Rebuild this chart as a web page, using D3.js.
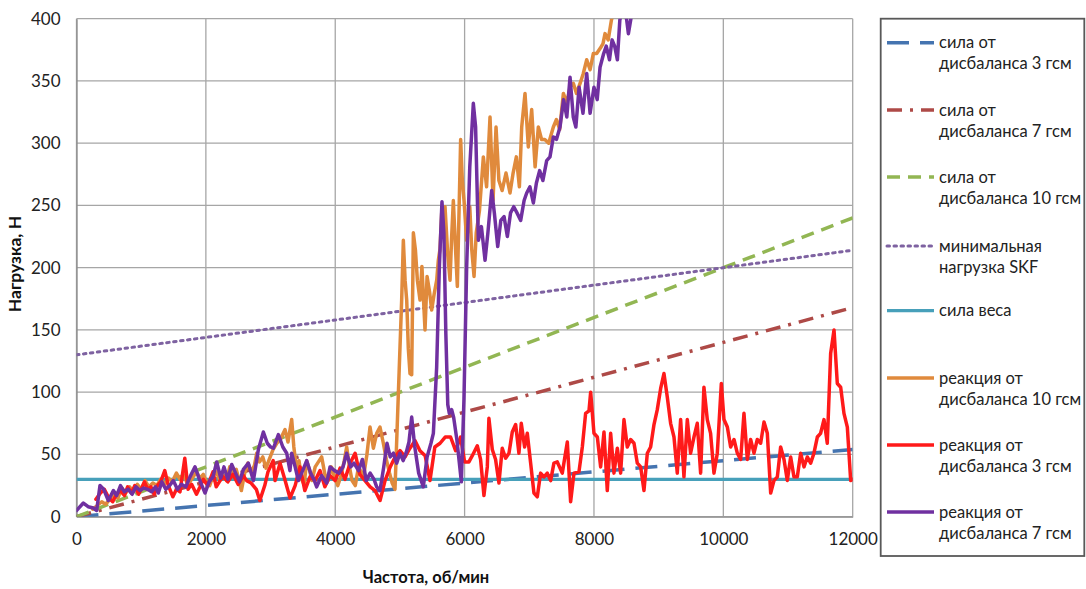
<!DOCTYPE html>
<html><head><meta charset="utf-8">
<script src="https://cdn.jsdelivr.net/npm/d3@7"></script>
<style>
html,body{margin:0;padding:0;background:#fff;}
svg{display:block;font-family:Lato,"Open Sans",sans-serif;}
</style></head>
<body>
<svg id="chart" width="1086" height="589"></svg>
<script>
// ---------- data ----------
const xTicks = [0, 2000, 4000, 6000, 8000, 10000, 12000];
const yTicks = [0, 50, 100, 150, 200, 250, 300, 350, 400];
const refRpm = [0, 12000];
const force3 = [0, 54];      // сила от дисбаланса 3 гсм
const force7 = [0, 168];     // сила от дисбаланса 7 гсм
const force10 = [0, 240];    // сила от дисбаланса 10 гсм
const skfMin = [130, 214];   // минимальная нагрузка SKF
const weight = [30, 30];     // сила веса

const react10 = [[250,6],[320,9],[390,12],[450,10],[515,14],[580,18],[640,15],[700,23],[760,19],[820,24],[880,20],[940,26],[1000,22],[1060,29],[1120,24],[1180,27],[1240,25],[1300,30],[1360,26],[1420,31],[1480,28],[1545,35],[1600,30],[1660,33],[1720,26],[1780,30],[1854,36],[1910,31],[1960,34],[2010,28],[2060,25],[2110,33],[2160,36],[2210,30],[2265,34],[2320,29],[2369,40],[2420,35],[2470,38],[2510,30],[2549,21],[2600,35],[2650,43],[2700,36],[2750,41],[2786,51],[2830,44],[2880,48],[2930,39],[2980,46],[3040,54],[3096,59],[3150,62],[3224,70],[3270,60],[3327,78],[3360,56],[3404,37],[3440,45],[3480,30],[3520,26],[3559,45],[3600,38],[3640,29],[3690,40],[3740,44],[3790,48],[3840,34],[3890,29],[3940,40],[3990,32],[4040,25],[4090,33],[4140,45],[4177,56],[4220,40],[4260,29],[4310,25],[4360,40],[4400,36],[4440,33],[4490,50],[4538,72],[4590,55],[4641,67],[4692,72],[4740,60],[4790,46],[4840,35],[4880,27],[4924,22],[4976,99],[5027,174],[5053,222],[5080,190],[5105,174],[5130,135],[5156,115],[5182,114],[5208,228],[5240,214],[5270,190],[5311,174],[5340,201],[5388,150],[5420,193],[5460,180],[5491,166],[5530,179],[5569,190],[5594,206],[5620,215],[5646,244],[5670,230],[5697,249],[5740,210],[5775,190],[5800,225],[5826,254],[5860,215],[5888,185],[5939,303],[5965,270],[5991,254],[6032,222],[6080,249],[6110,215],[6146,193],[6180,228],[6230,246],[6290,289],[6340,265],[6393,321],[6440,254],[6486,313],[6530,270],[6580,262],[6640,276],[6702,260],[6750,276],[6800,289],[6847,265],[6883,313],[6934,340],[6985,297],[7037,327],[7090,281],[7140,313],[7190,303],[7240,303],[7300,300],[7372,313],[7420,319],[7470,311],[7527,340],[7580,332],[7630,345],[7682,348],[7730,340],[7785,348],[7835,356],[7888,367],[7940,359],[7990,372],[8042,372],[8094,376],[8140,380],[8171,388],[8220,383],[8270,399],[8320,407]];

const react3 = [[300,14],[370,19],[430,22],[500,15],[560,12],[620,18],[680,21],[740,17],[790,24],[850,19],[900,25],[960,18],[1000,22],[1050,28],[1100,22],[1150,24],[1200,18],[1250,25],[1300,28],[1365,37],[1420,25],[1490,16],[1545,22],[1600,20],[1674,47],[1725,22],[1780,26],[1855,18],[1910,24],[1960,30],[2030,25],[2110,36],[2160,24],[2220,29],[2270,32],[2340,28],[2420,34],[2500,26],[2580,33],[2630,29],[2700,27],[2780,22],[2834,13],[2910,25],[2960,36],[3040,45],[3070,29],[3147,43],[3220,30],[3301,15],[3380,25],[3456,40],[3530,21],[3610,32],[3690,29],[3765,37],[3840,24],[3920,33],[3997,29],[4075,39],[4150,30],[4230,43],[4307,51],[4380,34],[4460,29],[4540,24],[4615,21],[4693,13],[4770,29],[4850,40],[4925,48],[5002,53],[5080,48],[5155,55],[5234,61],[5310,53],[5390,49],[5465,29],[5540,56],[5621,59],[5700,64],[5783,64],[5861,53],[5938,64],[6000,44],[6067,44],[6119,49],[6196,57],[6247,46],[6299,17],[6351,40],[6376,79],[6428,54],[6479,46],[6531,27],[6582,55],[6634,47],[6686,51],[6737,68],[6789,74],[6840,51],[6876,75],[6928,56],[6969,67],[7021,43],[7072,19],[7124,16],[7175,35],[7227,32],[7278,35],[7330,29],[7381,43],[7433,44],[7510,35],[7588,60],[7639,12],[7691,35],[7768,36],[7820,56],[7871,83],[7923,85],[7949,100],[8000,67],[8052,64],[8103,40],[8155,68],[8206,21],[8258,67],[8309,35],[8361,55],[8412,35],[8464,78],[8515,56],[8567,62],[8619,59],[8670,43],[8722,40],[8773,21],[8825,51],[8876,56],[8928,74],[8979,86],[9031,103],[9082,115],[9134,96],[9185,75],[9237,64],[9288,35],[9340,78],[9391,32],[9443,78],[9494,51],[9546,64],[9597,75],[9649,35],[9700,104],[9752,78],[9803,67],[9855,35],[9907,51],[9969,107],[10010,78],[10062,72],[10113,56],[10165,62],[10216,51],[10268,46],[10319,83],[10371,46],[10422,62],[10474,51],[10525,62],[10577,59],[10629,76],[10680,67],[10732,19],[10783,29],[10835,32],[10886,56],[10938,46],[10989,29],[11041,48],[11092,32],[11144,32],[11195,51],[11247,40],[11298,48],[11350,43],[11401,51],[11453,64],[11504,67],[11556,78],[11607,59],[11659,131],[11711,150],[11762,107],[11814,104],[11865,83],[11917,72],[11969,29],[12000,30]];

const react7 = [[0,5],[106,11],[180,8],[260,7],[312,5],[363,25],[420,22],[492,13],[570,21],[620,17],[680,25],[740,20],[800,22],[860,18],[920,24],[980,21],[1040,23],[1100,22],[1160,20],[1220,24],[1265,19],[1320,28],[1380,22],[1440,25],[1497,29],[1560,22],[1620,26],[1690,24],[1755,32],[1832,40],[1900,30],[1987,19],[2050,28],[2110,32],[2168,44],[2230,31],[2280,40],[2340,30],[2400,42],[2460,35],[2520,28],[2580,38],[2657,43],[2735,29],[2812,54],[2889,68],[2950,59],[3000,56],[3044,55],[3121,66],[3190,56],[3250,51],[3300,37],[3327,51],[3380,40],[3430,29],[3480,35],[3520,40],[3559,45],[3620,35],[3670,30],[3713,24],[3790,33],[3868,27],[3920,40],[3990,37],[4060,35],[4120,40],[4177,51],[4240,40],[4290,43],[4360,37],[4420,46],[4480,29],[4540,35],[4600,30],[4641,24],[4692,21],[4750,40],[4800,59],[4850,48],[4900,51],[4950,43],[5000,51],[5050,45],[5100,52],[5140,60],[5182,80],[5230,56],[5290,35],[5362,24],[5420,48],[5480,59],[5517,67],[5568,120],[5610,201],[5650,253],[5680,228],[5710,147],[5740,90],[5764,83],[5800,86],[5830,80],[5880,62],[5950,28],[5990,94],[6032,201],[6080,281],[6135,332],[6170,313],[6213,222],[6260,233],[6316,206],[6360,228],[6419,262],[6460,244],[6512,217],[6560,238],[6610,241],[6661,225],[6710,244],[6760,249],[6810,244],[6867,238],[6920,254],[6960,260],[7010,265],[7063,252],[7110,268],[7160,278],[7210,270],[7269,286],[7320,289],[7372,305],[7420,303],[7475,313],[7530,335],[7580,321],[7630,353],[7680,321],[7720,313],[7770,345],[7830,324],[7888,356],[7940,324],[8000,345],[8050,335],[8094,361],[8150,372],[8190,378],[8240,367],[8280,383],[8320,378],[8362,367],[8400,399],[8455,410],[8506,399],[8532,388],[8568,399],[8600,410]];

const legendLabels = [
  ["сила от", "дисбаланса 3 гсм"],
  ["сила от", "дисбаланса 7 гсм"],
  ["сила от", "дисбаланса 10 гсм"],
  ["минимальная", "нагрузка SKF"],
  ["сила веса"],
  ["реакция от", "дисбаланса 10 гсм"],
  ["реакция от", "дисбаланса 3 гсм"],
  ["реакция от", "дисбаланса 7 гсм"]
];

// ---------- styles ----------
const styles = [
  {color:"#4574B0", width:3.5, dash:"22,11"},
  {color:"#AE4A47", width:3.5, dash:"15,8,3,8"},
  {color:"#92B653", width:3.5, dash:"13,8"},
  {color:"#7E62A1", width:3, dash:"2.5,4.5"},
  {color:"#47A0BA", width:3.2, dash:null},
  {color:"#E08A3C", width:3.5, dash:null},
  {color:"#FF1A1A", width:3.5, dash:null},
  {color:"#7030A0", width:3.5, dash:null}
];

const svg = d3.select("#chart");
const L = 76.5, R = 852.7, T = 18.7, B = 516.7;
const x = d3.scaleLinear().domain([0, 12000]).range([L, R]);
const y = d3.scaleLinear().domain([0, 400]).range([B, T]);

svg.append("defs").append("clipPath").attr("id","plotclip")
  .append("rect").attr("x", L).attr("y", T).attr("width", R - L).attr("height", B - T);

// gridlines
const grid = svg.append("g");
grid.selectAll(".hg").data(yTicks).join("line")
  .attr("x1", L).attr("x2", R).attr("y1", d => y(d)).attr("y2", d => y(d))
  .attr("stroke", "#a6a6a6").attr("stroke-width", 1.3);
grid.selectAll(".vg").data(xTicks).join("line")
  .attr("y1", T).attr("y2", B).attr("x1", d => x(d)).attr("x2", d => x(d))
  .attr("stroke", "#a6a6a6").attr("stroke-width", 1.3);

// axes
const yAxis = svg.append("g").attr("transform", `translate(${L},0)`)
  .call(d3.axisLeft(y).tickValues(yTicks).tickSize(0).tickPadding(16).tickFormat(d3.format("d")));
const xAxis = svg.append("g").attr("transform", `translate(0,${B})`)
  .call(d3.axisBottom(x).tickValues(xTicks).tickSize(0).tickPadding(16).tickFormat(d3.format("d")));
[yAxis, xAxis].forEach(a => {
  a.select(".domain").attr("stroke", "#8c8c8c").attr("stroke-width", 1.3);
  a.selectAll("text").attr("font-family", "Lato, sans-serif").attr("font-size", 17).attr("fill", "#222");
});

// series
const plot = svg.append("g").attr("clip-path", "url(#plotclip)");
const refSeries = [force3, force7, force10, skfMin, weight];
const line = d3.line().x(d => x(d[0])).y(d => y(d[1]));
refSeries.forEach((vals, i) => {
  const pts = refRpm.map((r, k) => [r, vals[k]]);
  plot.append("path").datum(pts).attr("d", line)
    .attr("fill", "none").attr("stroke", styles[i].color).attr("stroke-width", styles[i].width)
    .attr("stroke-dasharray", styles[i].dash).attr("stroke-linecap", i === 3 ? "round" : "butt");
});
[react10, react3, react7].forEach((pts, j) => {
  const s = styles[5 + j];
  plot.append("path").datum(pts).attr("d", line)
    .attr("fill", "none").attr("stroke", s.color).attr("stroke-width", s.width)
    .attr("stroke-linejoin", "round").attr("stroke-linecap", "round");
});

// axis titles
svg.append("text").attr("transform", "translate(21,264) rotate(-90)")
  .attr("text-anchor", "middle").attr("font-family", "Lato, sans-serif")
  .attr("font-weight", "bold").attr("font-size", 17.5).attr("fill", "#111").text("Нагрузка, Н");
svg.append("text").attr("x", 426).attr("y", 583)
  .attr("text-anchor", "middle").attr("font-family", "Lato, sans-serif")
  .attr("font-weight", "bold").attr("font-size", 16.5).attr("fill", "#111").text("Частота, об/мин");

// legend
const lg = svg.append("g");
lg.append("rect").attr("x", 880.7).attr("y", 18.7).attr("width", 203.6).attr("height", 537.3)
  .attr("fill", "#fff").attr("stroke", "#595959").attr("stroke-width", 1.8);
const itemY = [42.7, 110, 177, 246, 310.7, 378, 445, 512];
legendLabels.forEach((lab, i) => {
  const s = styles[i];
  lg.append("line").attr("x1", 887).attr("x2", 934).attr("y1", itemY[i]).attr("y2", itemY[i])
    .attr("stroke", s.color).attr("stroke-width", s.width).attr("stroke-dasharray", s.dash)
    .attr("stroke-linecap", i === 3 ? "round" : "butt");
  lab.forEach((t, k) => {
    lg.append("text").attr("x", 939).attr("y", itemY[i] + k * 21 + 5.5)
      .attr("font-family", "Lato, sans-serif").attr("font-size", 16.5).attr("fill", "#222").text(t);
  });
});
</script>
</body></html>
